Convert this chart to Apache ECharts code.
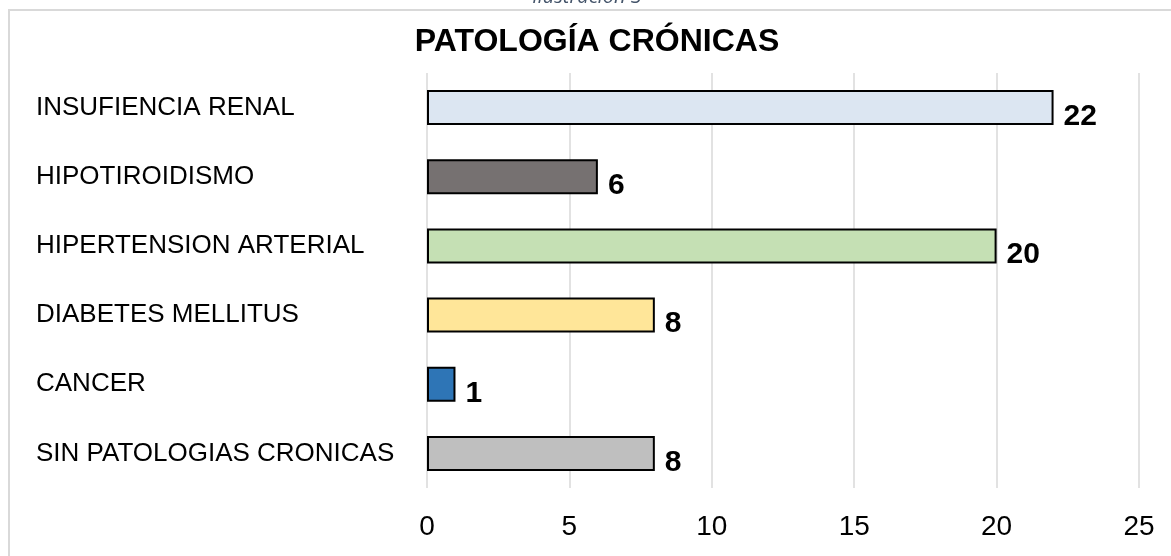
<!DOCTYPE html>
<html>
<head>
<meta charset="utf-8">
<script src="https://cdn.jsdelivr.net/npm/echarts@6/dist/echarts.min.js"></script>
<style>
  html, body { margin: 0; padding: 0; background: #ffffff; }
  #chartBar { width: 1171px; height: 556px; }
</style>
</head>
<body>
<div id="chartBar"></div>
<script>
// categorías de arriba hacia abajo
const categories = [
  "INSUFIENCIA RENAL",
  "HIPOTIROIDISMO",
  "HIPERTENSION ARTERIAL",
  "DIABETES MELLITUS",
  "CANCER",
  "SIN PATOLOGIAS CRONICAS",
];
// casos por patología
const values = [22, 6, 20, 8, 1, 8];
// marcas del eje x
const xTicks = [0, 5, 10, 15, 20, 25];

const barColors = ["#DCE6F2", "#767171", "#C5E0B4", "#FFE699", "#2E75B6", "#BFBFBF"];
const font = "'Liberation Sans', Arial, sans-serif";

const myChart = echarts.init(document.getElementById("chartBar"));

const option = {
  backgroundColor: "#ffffff",
  animation: false,
  title: {
    text: "PATOLOGÍA CRÓNICAS",
    left: 592,
    top: 21,
    textAlign: "center",
    textStyle: {
      fontFamily: font,
      fontSize: 32,
      fontWeight: "bold",
      color: "#000000",
    },
  },
  graphic: [
    {
      // marco del gráfico
      type: "rect",
      shape: { x: 9, y: 10, width: 1200, height: 600 },
      style: { fill: "none", stroke: "#D9D9D9", lineWidth: 2 },
      silent: true,
    },
    {
      // leyenda cortada arriba
      type: "text",
      x: 587,
      y: -3,
      style: {
        text: "Ilustración 3",
        fill: "#44546A",
        font: "italic 20px 'Open Sans', sans-serif",
        align: "center",
        verticalAlign: "middle",
      },
      silent: true,
    },
  ],
  grid: {
    top: 73,
    left: 427,
    right: 32,
    bottom: 68,
    containLabel: false,
  },
  xAxis: {
    type: "value",
    min: xTicks[0],
    max: xTicks[xTicks.length - 1],
    interval: xTicks[1] - xTicks[0],
    axisLine: { show: false },
    axisTick: { show: false },
    splitLine: {
      show: true,
      lineStyle: { color: "#D9D9D9", width: 1.5 },
    },
    axisLabel: {
      margin: 25,
      fontFamily: font,
      fontSize: 28,
      color: "#000000",
    },
  },
  yAxis: {
    type: "category",
    data: categories,
    inverse: true,
    axisLine: { show: false },
    axisTick: { show: false },
    axisLabel: {
      align: "left",
      margin: 391,
      fontFamily: font,
      fontSize: 26,
      color: "#000000",
    },
  },
  series: [
    {
      type: "bar",
      barWidth: 35,
      data: values.map((v, i) => ({
        value: v,
        itemStyle: { color: barColors[i] },
      })),
      itemStyle: {
        borderColor: "#000000",
        borderWidth: 2,
      },
      label: {
        show: true,
        position: "right",
        distance: 10,
        offset: [0, 9],
        fontFamily: font,
        fontSize: 30,
        fontWeight: "bold",
        color: "#000000",
      },
    },
  ],
};

myChart.setOption(option);
window.addEventListener("resize", () => {
  myChart.resize();
});
</script>
</body>
</html>
